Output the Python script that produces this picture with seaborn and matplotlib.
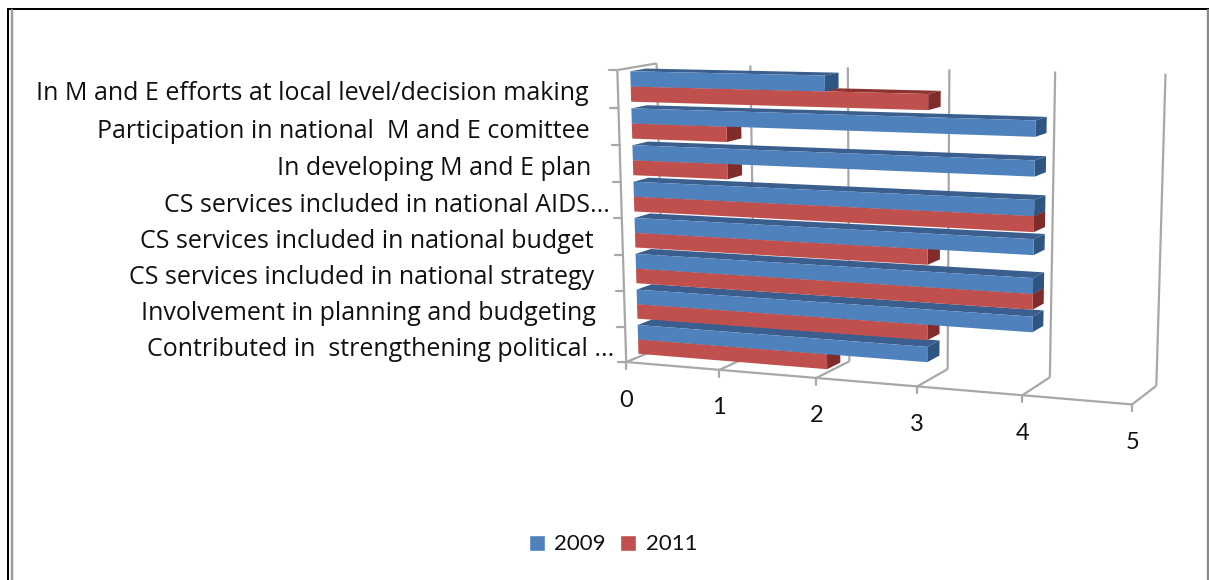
import numpy as np
import pandas as pd
import matplotlib
matplotlib.use("Agg")
import matplotlib.pyplot as plt
from matplotlib.lines import Line2D
from matplotlib.patches import Patch, Polygon
from matplotlib.transforms import IdentityTransform, Transform
import seaborn as sns

categories = [
    "In M and E efforts at local level/decision making",
    "Participation in national  M and E comittee",
    "In developing M and E plan",
    "CS services included in national AIDS...",
    "CS services included in national budget",
    "CS services included in national strategy",
    "Involvement in planning and budgeting",
    "Contributed in  strengthening political ...",
]
values_2009 = [2, 4, 4, 4, 4, 4, 4, 3]
values_2011 = [3, 1, 1, 4, 3, 4, 3, 2]
years = ["2009", "2011"]
value_ticks = [0, 1, 2, 3, 4, 5]

WIDTH, HEIGHT, DPI = 1209, 580, 100
BLUE, BLUE_TOP, BLUE_SIDE = "#4F81BD", "#3A5F8E", "#2F5583"
RED, RED_TOP, RED_SIDE = "#C0504D", "#8E3331", "#7F2C2A"
GRID = "#A8A8A8"
INK = "#111111"
FRONT, BACK = 0.32, 0.72

# Camera calibration for the oblique box: (value, row, depth) -> pixel
box_anchors = np.array([
    [0, 7.5, 0, 627, 362], [1, 7.5, 0, 719, 370], [2, 7.5, 0, 816, 378],
    [3, 7.5, 0, 917, 386], [4, 7.5, 0, 1023, 395], [5, 7.5, 0, 1132, 405],
    [0, -0.5, 0, 617, 70],
    [0, 7.5, 1, 655, 352], [3, 7.5, 1, 950, 367], [4, 7.5, 1, 1050, 375],
    [5, 7.5, 1, 1156, 383],
    [0, -0.5, 1, 660, 63], [1, -0.5, 1, 753, 65], [2, -0.5, 1, 850, 66],
    [3, -0.5, 1, 951, 70], [4, -0.5, 1, 1055, 73], [5, -0.5, 1, 1163, 75],
], dtype=float)


def fit_camera(points):
    rows = []
    for v, r, d, u, w in points:
        # the front edges carry the tick marks, so they count for more
        weight = 5.0 if d == 0 else 1.0
        rows.append(weight * np.array([v, r, d, 1, 0, 0, 0, 0, -u * v, -u * r, -u * d, -u]))
        rows.append(weight * np.array([0, 0, 0, 0, v, r, d, 1, -w * v, -w * r, -w * d, -w]))
    return np.linalg.svd(np.array(rows))[2][-1].reshape(3, 4)


CAMERA = fit_camera(box_anchors)


def project(v, r, d):
    """Pixel position (origin top left) of a point in the box."""
    v, r, d = np.broadcast_arrays(np.asarray(v, float), np.asarray(r, float), np.asarray(d, float))
    h = CAMERA @ np.stack([v.ravel(), r.ravel(), d.ravel(), np.ones(v.size)])
    return np.column_stack([h[0] / h[2], h[1] / h[2]])


def to_display(pixels):
    pixels = np.atleast_2d(pixels)
    return np.column_stack([pixels[:, 0], HEIGHT - pixels[:, 1]])


class DepthPlane(Transform):
    """Sends (value, row) data onto a plane of constant depth in the box."""
    input_dims = output_dims = 2
    is_separable = False
    has_inverse = False

    def __init__(self, plane_depth):
        super().__init__()
        self.plane_depth = plane_depth

    def transform_non_affine(self, xy):
        xy = np.asarray(xy, float)
        return to_display(project(xy[:, 0], xy[:, 1], self.plane_depth))


sns.set_theme(style="white")
plt.rcParams["font.family"] = ["Lato", "DejaVu Sans"]

fig = plt.figure(figsize=(WIDTH / DPI, HEIGHT / DPI), dpi=DPI, facecolor="white")
ax = fig.add_axes([0, 0, 1, 1])
ax.set_axis_off()

table = pd.DataFrame({
    "category": categories * 2,
    "score": values_2009 + values_2011,
    "year": [years[0]] * len(categories) + [years[1]] * len(categories),
})
sns.barplot(data=table, y="category", x="score", hue="year", hue_order=years,
            palette=[BLUE, RED], orient="h", width=0.82, saturation=1,
            errorbar=None, legend=False, ax=ax)

pixel_space = IdentityTransform()


def box_line(v, r, d, width=1.6, zorder=1, color=GRID):
    pts = to_display(project(v, r, d))
    ax.add_line(Line2D(pts[:, 0], pts[:, 1], color=color, lw=width, transform=pixel_space,
                       zorder=zorder, clip_on=False, solid_capstyle="butt"))


# Walls, floor and ticks of the box
top_row, floor_row = -0.5, len(categories) - 0.5
for v in value_ticks:
    box_line([v, v], [floor_row, top_row], [1, 1])
    box_line([v, v], [floor_row, floor_row], [0, 1])
    foot = project(v, floor_row, 0)[0]
    ax.plot([foot[0], foot[0]], [HEIGHT - foot[1], HEIGHT - foot[1] - 7], color=GRID, lw=1.6,
            transform=pixel_space, clip_on=False, zorder=1)
    ax.text(foot[0], HEIGHT - foot[1] - 38, str(v), transform=pixel_space,
            ha="center", va="center", fontsize=17, color=INK)
box_line([value_ticks[0], value_ticks[-1]], [floor_row, floor_row], [0, 0])
box_line([0, 0], [floor_row, top_row], [0, 0])
box_line([0, 0], [top_row, top_row], [0, 1])

for i in range(len(categories) + 1):
    end = project(0, i - 0.5, 0)[0]
    ax.plot([end[0] - 8, end[0]], [HEIGHT - end[1], HEIGHT - end[1]], color=GRID, lw=1.6,
            transform=pixel_space, clip_on=False, zorder=1)

for i, label in enumerate(categories):
    anchor = project(0, i, 0)[0]
    right = anchor[0] - 29 + (18 if label.endswith("...") else 0)
    ax.text(right, HEIGHT - anchor[1] - 5, label, transform=pixel_space, ha="right", va="center",
            fontsize=18, color=INK, family=["Open Sans", "DejaVu Sans"])

# Bars: seaborn's rectangles become the front faces, extruded toward the back wall
shades = [(BLUE_TOP, BLUE_SIDE), (RED_TOP, RED_SIDE)]
front_plane = DepthPlane(FRONT)
for container, (top_colour, side_colour) in zip(ax.containers, shades):
    for rect in container:
        v, y0, y1 = rect.get_width(), rect.get_y(), rect.get_y() + rect.get_height()
        z = 100 - 10 * (y0 + y1) / 2
        rect.set_transform(front_plane)
        rect.set_clip_on(False)
        rect.set_edgecolor("none")
        rect.set_zorder(z + 0.2)
        top = project([0, v, v, 0], y0, [FRONT, FRONT, BACK, BACK])
        side = project(v, [y0, y1, y1, y0], [FRONT, FRONT, BACK, BACK])
        for verts, colour, dz in ((top, top_colour, 0.0), (side, side_colour, 0.1)):
            ax.add_patch(Polygon(to_display(verts), closed=True, facecolor=colour, edgecolor="none",
                                 transform=pixel_space, clip_on=False, zorder=z + dz))

ax.set_xlim(0, WIDTH)
ax.set_ylim(0, HEIGHT)

# Legend along the bottom
handles = [Patch(facecolor=BLUE, label=years[0]), Patch(facecolor=RED, label=years[1])]
fig.legend(handles=handles, loc="center", bbox_to_anchor=(613 / WIDTH, 1 - 544.5 / HEIGHT), ncol=2,
           frameon=False, fontsize=16, handlelength=0.72, handleheight=0.7, handletextpad=0.42,
           columnspacing=0.65, labelcolor=INK, borderpad=0)

# Page frame around the chart
frame = [
    ([8, 8], [580, 9], "black", 2.0),
    ([8, 1209], [9, 9], "black", 2.0),
    ([12, 12], [580, 10], "#9A9A9A", 2.4),
    ([1208, 1208], [580, 10], "#8A8A8A", 2.4),
]
for xs, ys, colour, lw in frame:
    fig.add_artist(Line2D(np.array(xs) / WIDTH, 1 - np.array(ys) / HEIGHT, color=colour, lw=lw * 72 / DPI,
                          transform=fig.transFigure))

fig.savefig("out.png", dpi=DPI, facecolor="white")
